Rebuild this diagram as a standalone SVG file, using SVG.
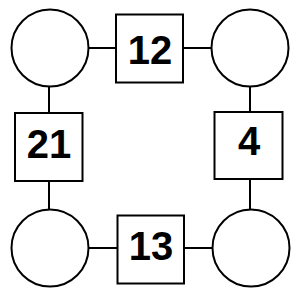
<svg xmlns="http://www.w3.org/2000/svg" width="300" height="300" viewBox="0 0 300 300">
<style>
.c{fill:#fff;stroke:#000;stroke-width:2}
.s{fill:#fff;stroke:#000;stroke-width:2}
.e{stroke:#000;stroke-width:2;fill:none}
.t{font-family:"Liberation Sans",Arial,sans-serif;font-weight:bold;font-size:40px;text-anchor:middle;fill:#000}
</style>
<rect width="300" height="300" fill="#fff"/>
<g id="connectors">
<line class="e" x1="88" y1="48" x2="116" y2="48"/>
<line class="e" x1="183" y1="48" x2="212" y2="48"/>
<line class="e" x1="89" y1="248" x2="117" y2="248"/>
<line class="e" x1="184" y1="248" x2="213" y2="248"/>
<line class="e" x1="49" y1="86" x2="49" y2="113"/>
<line class="e" x1="49" y1="181" x2="49" y2="210"/>
<line class="e" x1="250" y1="86" x2="250" y2="112"/>
<line class="e" x1="250" y1="179" x2="250" y2="210"/>
</g>
<g id="n-tl"><circle class="c" cx="50" cy="48" r="38.5"/></g>
<g id="n-tr"><circle class="c" cx="250" cy="48" r="38.5"/></g>
<g id="n-bl"><circle class="c" cx="50" cy="248" r="38.5"/></g>
<g id="n-br"><circle class="c" cx="251" cy="248" r="38.5"/></g>
<g id="n-12"><rect class="s" x="116" y="14.5" width="67" height="68"/><text class="t" x="150" y="64">12</text></g>
<g id="n-21"><rect class="s" x="15" y="113" width="67.5" height="68"/><text class="t" x="49" y="158">21</text></g>
<g id="n-13"><rect class="s" x="117.5" y="215.5" width="66.5" height="68"/><text class="t" x="151" y="260">13</text></g>
<g id="n-4"><rect class="s" x="214.5" y="112" width="68" height="67"/><text class="t" x="249" y="155">4</text></g>
</svg>
